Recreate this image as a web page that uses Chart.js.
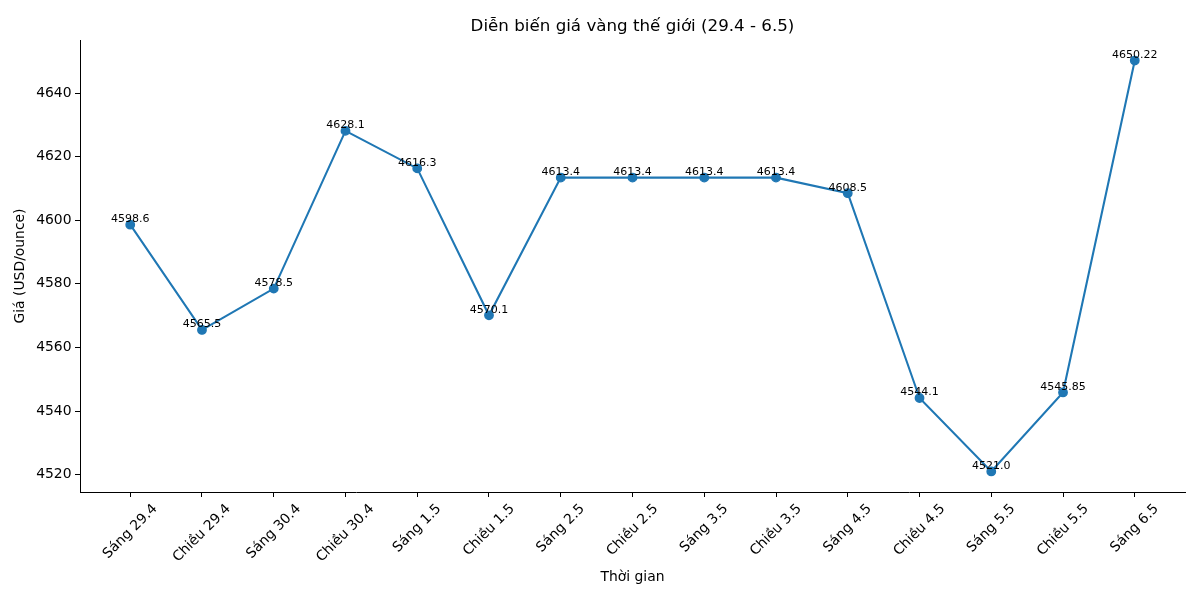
<!DOCTYPE html>
<html>
<head>
<meta charset="utf-8">
<script src="https://cdn.jsdelivr.net/npm/chart.js@4/dist/chart.umd.min.js"></script>
<style>
html,body{margin:0;padding:0;background:#fff;}
canvas{display:block;}
</style>
</head>
<body>
<canvas id="c" width="1200" height="600"></canvas>
<script>
const categories = ["Sáng 29.4","Chiều 29.4","Sáng 30.4","Chiều 30.4","Sáng 1.5","Chiều 1.5","Sáng 2.5","Chiều 2.5","Sáng 3.5","Chiều 3.5","Sáng 4.5","Chiều 4.5","Sáng 5.5","Chiều 5.5","Sáng 6.5"];
const prices = [4598.6,4565.5,4578.5,4628.1,4616.3,4570.1,4613.4,4613.4,4613.4,4613.4,4608.5,4544.1,4521.0,4545.85,4650.22];
const priceLabels = ["4598.6","4565.5","4578.5","4628.1","4616.3","4570.1","4613.4","4613.4","4613.4","4613.4","4608.5","4544.1","4521.0","4545.85","4650.22"];
const yTicks = [4520,4540,4560,4580,4600,4620,4640];
const chartTitle = "Diễn biến giá vàng thế giới (29.4 - 6.5)";
const xTitle = "Thời gian";
const yTitle = "Giá (USD/ounce)";

const FONT = "'DejaVu Sans', sans-serif";
const COLOR = "#1f77b4";

const dmin = Math.min(...prices), dmax = Math.max(...prices);
const marg = (dmax - dmin) * 0.05;
const n = categories.length;
const xm = (n - 1) * 0.05;

const textPlugin = {
  id: 'textPlugin',
  afterDraw(chart) {
    const ctx = chart.ctx;
    const area = chart.chartArea;
    const xs = chart.scales.x, ys = chart.scales.y;
    ctx.save();
    ctx.fillStyle = '#000';
    // value labels
    ctx.font = "11px " + FONT;
    ctx.textAlign = 'center';
    ctx.textBaseline = 'alphabetic';
    prices.forEach((v, i) => {
      ctx.fillText(priceLabels[i], xs.getPixelForValue(i), ys.getPixelForValue(v) - 2.5);
    });
    // x tick labels rotated 45
    ctx.font = "13.9px " + FONT;
    ctx.textAlign = 'center';
    ctx.textBaseline = 'middle';
    const h = 13.9;
    categories.forEach((c, i) => {
      const w = ctx.measureText(c).width;
      const x = xs.getPixelForValue(i);
      const y = area.bottom + 9.8 + (w + h) * Math.SQRT1_2 / 2;
      ctx.save();
      ctx.translate(x, y);
      ctx.rotate(-Math.PI / 4);
      ctx.fillText(c, 0, 0);
      ctx.restore();
    });
    // axis titles
    ctx.font = "13.9px " + FONT;
    ctx.textAlign = 'center';
    ctx.textBaseline = 'middle';
    ctx.fillText(xTitle, (area.left + area.right) / 2, 577);
    ctx.save();
    ctx.translate(20, (area.top + area.bottom) / 2);
    ctx.rotate(-Math.PI / 2);
    ctx.fillText(yTitle, 0, 0);
    ctx.restore();
    // chart title
    ctx.font = "16.7px " + FONT;
    ctx.textBaseline = 'alphabetic';
    ctx.fillText(chartTitle, (area.left + area.right) / 2, 31);
    ctx.restore();
  }
};

new Chart(document.getElementById('c'), {
  type: 'line',
  data: {
    datasets: [{
      data: prices.map((v, i) => ({x: i, y: v})),
      borderColor: COLOR,
      backgroundColor: COLOR,
      borderWidth: 2.08,
      pointRadius: 4.2,
      pointHoverRadius: 4.2,
      pointBackgroundColor: COLOR,
      pointBorderColor: COLOR,
      pointBorderWidth: 1.4,
      tension: 0,
      fill: false,
      clip: false
    }]
  },
  options: {
    responsive: false,
    animation: false,
    devicePixelRatio: 1,
    layout: {padding: {left: 0, right: 15, top: 40, bottom: 0}},
    plugins: {legend: {display: false}, title: {display: false}, tooltip: {enabled: false}},
    scales: {
      x: {
        type: 'linear',
        min: -xm,
        max: (n - 1) + xm,
        afterBuildTicks(s) { s.ticks = categories.map((c, i) => ({value: i})); },
        afterFit(s) { s.height = 108; },
        ticks: {autoSkip: false, maxRotation: 0, color: 'rgba(0,0,0,0)', font: {size: 13.9, family: FONT}},
        grid: {drawOnChartArea: false, drawTicks: true, tickLength: 5, tickColor: '#000', tickWidth: 1},
        border: {display: true, color: '#000', width: 1}
      },
      y: {
        type: 'linear',
        min: dmin - marg,
        max: dmax + marg,
        afterBuildTicks(s) { s.ticks = yTicks.map(v => ({value: v})); },
        afterFit(s) { s.width = 80; },
        ticks: {color: '#000', padding: 3.5, font: {size: 13.9, family: FONT}, callback: v => String(v)},
        grid: {drawOnChartArea: false, drawTicks: true, tickLength: 5, tickColor: '#000', tickWidth: 1},
        border: {display: true, color: '#000', width: 1}
      }
    }
  },
  plugins: [textPlugin]
});
</script>
</body>
</html>
